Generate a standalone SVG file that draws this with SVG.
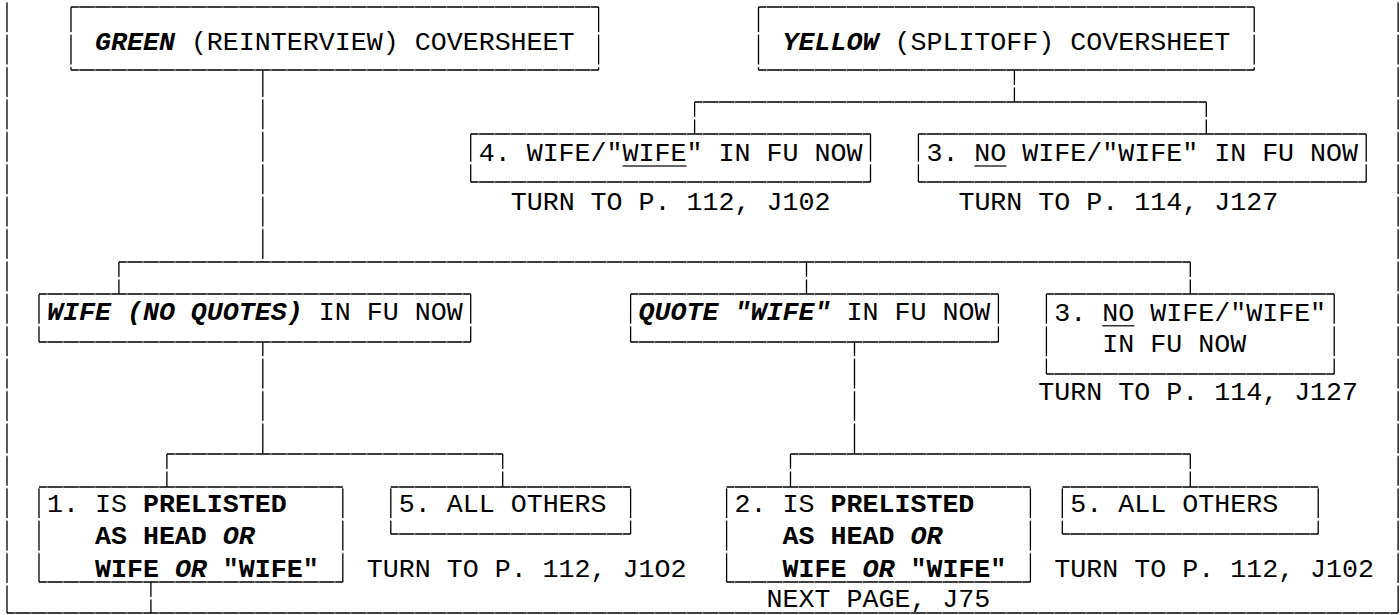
<svg xmlns="http://www.w3.org/2000/svg" width="1400" height="615" viewBox="0 0 1400 615">
<style>
.hz{fill:none;stroke:#000;stroke-width:1.3;mask:url(#mh)}
.vt{fill:none;stroke:#000;stroke-width:1.3;mask:url(#mv)}
.sc{fill:none;stroke:#000;stroke-width:1.3;stroke-dasharray:15 2.5 40}
text{font-family:"Liberation Mono","Courier New",monospace;font-size:26.65px;fill:#000}
.b{font-weight:bold}
.bi{font-weight:bold;font-style:italic}
.ul{stroke:#333;stroke-width:1.6}
</style>
<defs>
<pattern id="pv" patternUnits="userSpaceOnUse" x="0" y="-0.25" width="1400" height="32.4">
<rect width="1400" height="32.4" fill="#fff"/><rect width="1400" height="2.5" fill="#000"/>
</pattern>
<pattern id="ph" patternUnits="userSpaceOnUse" x="-1.5" y="0" width="15.99" height="615">
<rect width="15.99" height="615" fill="#fff"/><rect width="1" height="615" fill="#888"/>
</pattern>
<mask id="mv" maskUnits="userSpaceOnUse" x="0" y="0" width="1400" height="615"><rect width="1400" height="615" fill="url(#pv)"/></mask>
<mask id="mh" maskUnits="userSpaceOnUse" x="0" y="0" width="1400" height="615"><rect width="1400" height="615" fill="url(#ph)"/></mask>
</defs>
<rect width="1400" height="615" fill="#fff"/>

<g id="frame">
<path class="vt" d="M7 0V613M1398.1 0V613"/>
<path class="hz" d="M7 613H1398.1"/>
</g>

<g id="connectors">
<path class="vt" d="M262.8 70V262M262.8 342V454M854.5 342V454"/>
<path class="hz" d="M694.6 102H1206.3M118.9 262H1190.3M166.9 454H502.7M790.5 454H1190.3"/>
<path class="sc" d="M1014.4 70V102M694.6 102V134M1206.3 102V134M118.9 262V294M806.5 262V294M1190.3 262V294M166.9 454V487M502.7 454V487M790.5 454V487M1190.3 454V487M150.9 582V613"/>
</g>

<g id="green">
<path class="hz" d="M71 7H598.6M71 70H598.6"/>
<path class="vt" d="M71 7V70M598.6 7V70"/>
<text y="50"><tspan class="bi" x="94.94">GREEN</tspan><tspan x="190.88">(REINTERVIEW) COVERSHEET</tspan></text>
</g>

<g id="yellow">
<path class="hz" d="M758.5 7H1254.2M758.5 70H1254.2"/>
<path class="vt" d="M758.5 7V70M1254.2 7V70"/>
<text y="50"><tspan class="bi" x="782.51">YELLOW</tspan><tspan x="894.44">(SPLITOFF) COVERSHEET</tspan></text>
</g>

<g id="wife-yellow">
<path class="hz" d="M470.7 134H870.5M470.7 182H870.5"/>
<path class="vt" d="M470.7 134V182M870.5 134V182"/>
<text x="478.7" y="161">4. WIFE/"WIFE" IN FU NOW</text>
<line class="ul" x1="622.6" y1="166" x2="686.6" y2="166"/>
<text x="510.68" y="209.5">TURN TO P. 112, J102</text>
</g>

<g id="nowife-yellow">
<path class="hz" d="M918.4 134H1366.2M918.4 182H1366.2"/>
<path class="vt" d="M918.4 134V182M1366.2 134V182"/>
<text x="926.42" y="161">3. NO WIFE/"WIFE" IN FU NOW</text>
<line class="ul" x1="974.4" y1="166" x2="1006.4" y2="166"/>
<text x="958.4" y="209.5">TURN TO P. 114, J127</text>
</g>

<g id="wife-noquotes">
<path class="hz" d="M39 294H470.7M39 342H470.7"/>
<path class="vt" d="M39 294V342M470.7 294V342"/>
<text y="320"><tspan class="bi" x="46.97">WIFE (NO QUOTES)</tspan><tspan x="318.8">IN FU NOW</tspan></text>
</g>

<g id="quote-wife">
<path class="hz" d="M630.6 294H998.4M630.6 342H998.4"/>
<path class="vt" d="M630.6 294V342M998.4 294V342"/>
<text y="320"><tspan class="bi" x="638.6">QUOTE "WIFE"</tspan><tspan x="846.47">IN FU NOW</tspan></text>
</g>

<g id="nowife-green">
<path class="hz" d="M1046.4 294H1334.2M1046.4 374H1334.2"/>
<path class="vt" d="M1046.4 294V374M1334.2 294V374"/>
<text x="1054.34" y="321">3. NO WIFE/"WIFE"</text>
<line class="ul" x1="1102.3" y1="325.7" x2="1134.3" y2="325.7"/>
<text x="1102.31" y="352">IN FU NOW</text>
<text x="1038.35" y="399.5">TURN TO P. 114, J127</text>
</g>

<g id="prelisted-1">
<path class="hz" d="M39 487H342.8M39 582H342.8"/>
<path class="vt" d="M39 487V582M342.8 487V582"/>
<text y="511.7"><tspan x="46.97">1. IS</tspan><tspan class="b" x="142.91">PRELISTED</tspan></text>
<text y="543.5"><tspan class="b" x="94.94">AS HEAD</tspan><tspan class="bi" x="222.86">OR</tspan></text>
<text y="576.7"><tspan class="b" x="94.94">WIFE</tspan><tspan class="bi" x="174.89">OR</tspan><tspan class="b" x="222.86">"WIFE"</tspan></text>
</g>

<g id="allothers-1">
<path class="hz" d="M390.8 487H630.6M390.8 534H630.6"/>
<path class="vt" d="M390.8 487V534M630.6 487V534"/>
<text x="398.75" y="511.7">5. ALL OTHERS</text>
<text x="366.77" y="576.7">TURN TO P. 112, J1O2</text>
</g>

<g id="prelisted-2">
<path class="hz" d="M726.6 487H1030.4M726.6 582H1030.4"/>
<path class="vt" d="M726.6 487V582M1030.4 487V582"/>
<text y="511.7"><tspan x="734.54">2. IS</tspan><tspan class="b" x="830.48">PRELISTED</tspan></text>
<text y="543.5"><tspan class="b" x="782.51">AS HEAD</tspan><tspan class="bi" x="910.43">OR</tspan></text>
<text y="576.7"><tspan class="b" x="782.51">WIFE</tspan><tspan class="bi" x="862.46">OR</tspan><tspan class="b" x="910.43">"WIFE"</tspan></text>
<text x="766.52" y="606.7">NEXT PAGE, J75</text>
</g>

<g id="allothers-2">
<path class="hz" d="M1062.3 487H1318.2M1062.3 534H1318.2"/>
<path class="vt" d="M1062.3 487V534M1318.2 487V534"/>
<text x="1070.33" y="511.7">5. ALL OTHERS</text>
<text x="1054.34" y="576.7">TURN TO P. 112, J102</text>
</g>
</svg>
